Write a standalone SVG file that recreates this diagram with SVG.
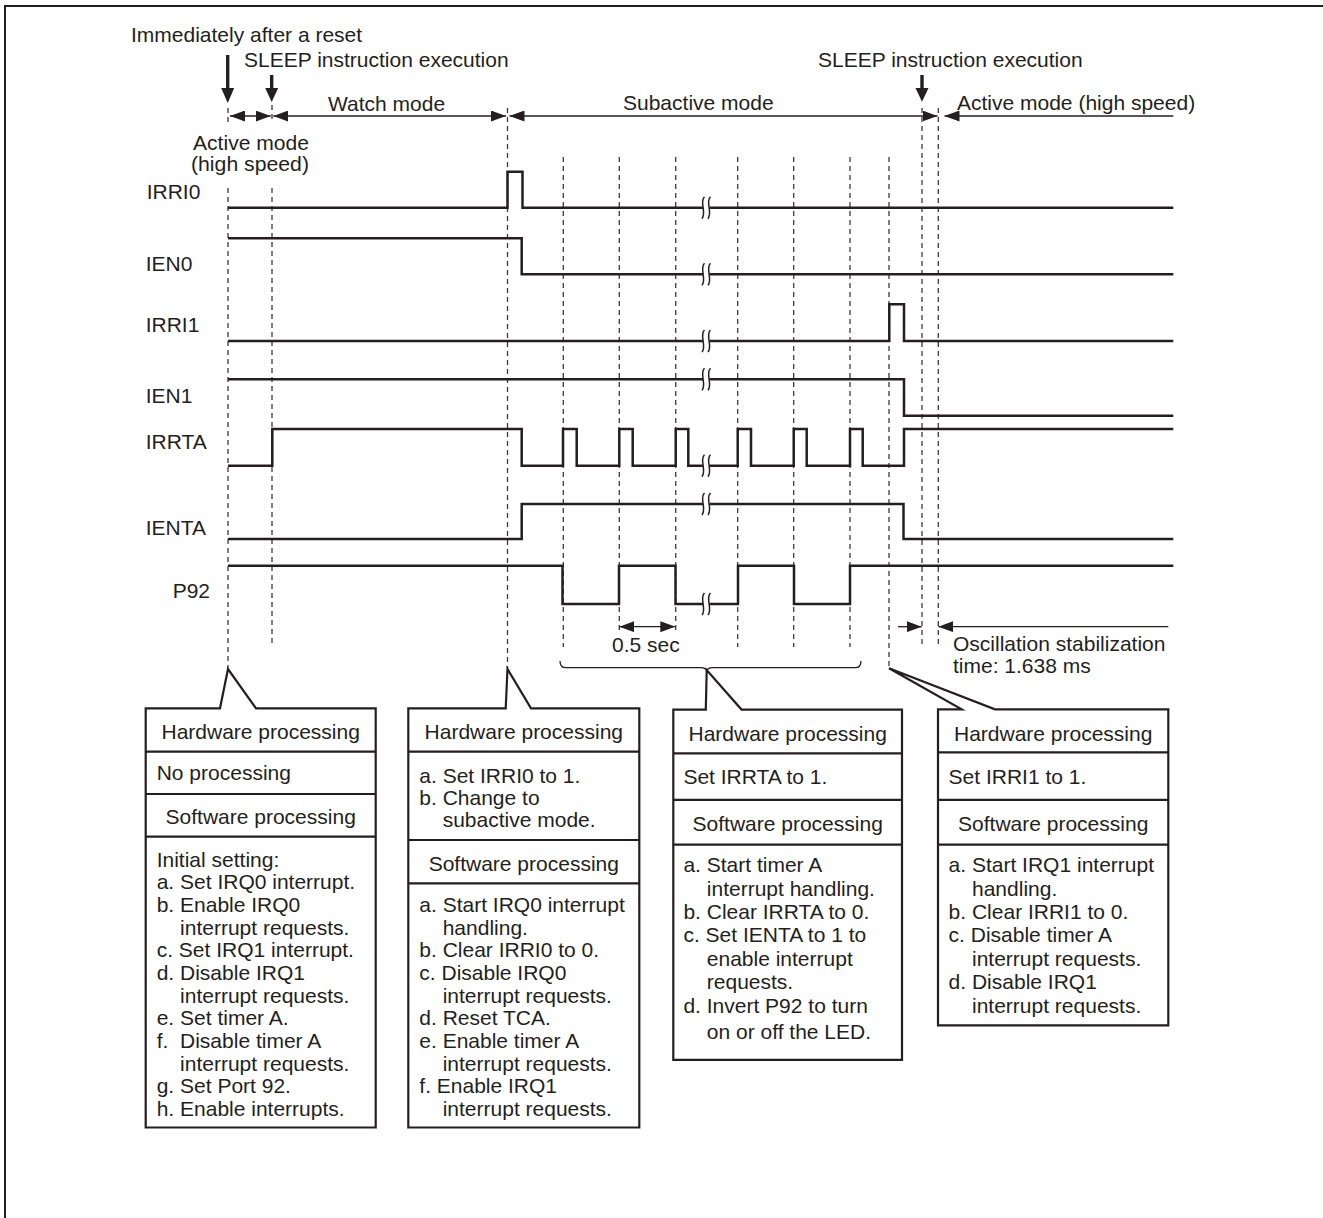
<svg xmlns="http://www.w3.org/2000/svg" width="1323" height="1218" viewBox="0 0 1323 1218">
<style>
.t{font-family:"Liberation Sans",Arial,sans-serif;font-size:21px;fill:#231f20}
.s{font-size:19.5px}
.c{text-anchor:middle}
.w{fill:none;stroke:#231f20;stroke-width:2.5}
.d{fill:none;stroke:#3a3a3a;stroke-width:1.3;stroke-dasharray:5 4}
.box{fill:#fff;stroke:#231f20;stroke-width:2.2}
.dv{stroke:#231f20;stroke-width:2.2}
.dim{fill:none;stroke:#231f20;stroke-width:1.3}
.brk{fill:none;stroke:#231f20;stroke-width:1.5}
.ar{fill:#231f20}
</style>
<defs>
<marker id="ah" viewBox="0 0 15 11" refX="15" refY="5.5" markerWidth="15" markerHeight="11" markerUnits="userSpaceOnUse" orient="auto-start-reverse"><path d="M0,0 L15,5.5 L0,11 Z" fill="#231f20"/></marker>
</defs>
<rect width="1323" height="1218" fill="#fff"/>
<g id="frame"><path d="M5,1218 V6 H1323" fill="none" stroke="#231f20" stroke-width="2"/></g>

<g id="top-labels">
<text class="t" x="131" y="42">Immediately after a reset</text>
<text class="t" x="244" y="67">SLEEP instruction execution</text>
<text class="t" x="818" y="67">SLEEP instruction execution</text>
<text class="t" x="328" y="111">Watch mode</text>
<text class="t" x="623" y="110">Subactive mode</text>
<text class="t" x="957" y="110">Active mode (high speed)</text>
<text class="t" x="193" y="150" textLength="116" lengthAdjust="spacingAndGlyphs">Active mode</text>
<text class="t s" x="191" y="171" textLength="118" lengthAdjust="spacingAndGlyphs">(high speed)</text>
<rect class="ar" x="226" y="55" width="3.4" height="34"/><polygon class="ar" points="221.2,88 234.2,88 227.7,103"/>
<rect class="ar" x="270" y="75" width="3.4" height="14"/><polygon class="ar" points="265.2,88 278.2,88 271.7,102"/>
<rect class="ar" x="920.3" y="75" width="3.4" height="14"/><polygon class="ar" points="915.5,88 928.5,88 922,101.7"/>
</g>

<g id="connectors">
<path class="d" d="M228,108V123 M228,188V668 M272,105V123 M272,188V647 M507.5,108V668 M563.3,157V647 M619.3,157V631 M675.7,157V631 M737.7,157V647 M793.7,157V647 M850,157V647 M889,157V668 M922,108V647 M938.3,108V647"/>
<path class="dim" d="M230,116H270.7" marker-start="url(#ah)" marker-end="url(#ah)"/>
<path class="dim" d="M273.3,116H506" marker-start="url(#ah)" marker-end="url(#ah)"/>
<path class="dim" d="M509.5,116H937.5" marker-start="url(#ah)" marker-end="url(#ah)"/>
<path class="dim" d="M944.5,116H1173.3" marker-start="url(#ah)"/>
<path class="dim" d="M619.3,626.7H675.3" marker-start="url(#ah)" marker-end="url(#ah)"/>
<path class="dim" d="M898,626.7H921.7" marker-end="url(#ah)"/>
<path class="dim" d="M938.3,626.7H1168.3" marker-start="url(#ah)"/>
<path class="dim" d="M560,661 Q560,667.7 566,667.7 H700.7 Q706.7,667.7 706.7,672 Q706.7,667.7 712.7,667.7 H855 Q861,667.7 861,661"/>
<text class="t" x="612" y="652">0.5 sec</text>
<text class="t" x="953" y="651">Oscillation stabilization</text>
<text class="t" x="953" y="673">time: 1.638 ms</text>
</g>

<g id="signals">
<g id="sig-IRRI0"><text class="t" x="146.7" y="199">IRRI0</text><path class="w" d="M228,207.7 H507.5 V171.7 H522.5 V207.7 H1173.3"/></g>
<g id="sig-IEN0"><text class="t" x="145.7" y="271">IEN0</text><path class="w" d="M228,238.3 H521.7 V274.3 H1173.3"/></g>
<g id="sig-IRRI1"><text class="t" x="145.7" y="332">IRRI1</text><path class="w" d="M228,341 H889.3 V304.3 H904 V341 H1173.3"/></g>
<g id="sig-IEN1"><text class="t" x="145.7" y="403">IEN1</text><path class="w" d="M228,379.3 H904 V415.7 H1173.3"/></g>
<g id="sig-IRRTA"><text class="t" x="145.7" y="449">IRRTA</text><path class="w" d="M228,465.7 H272.3 V429 H521.7 V465.7 H563 V429 H576.7 V465.7 H619.3 V429 H632.7 V465.7 H675.7 V429 H688.3 V465.7 H737.7 V429 H751 V465.7 H793.7 V429 H806.7 V465.7 H850 V429 H862.7 V465.7 H904 V429 H1173.3"/></g>
<g id="sig-IENTA"><text class="t" x="145.7" y="535">IENTA</text><path class="w" d="M228,539 H521.7 V504 H903.5 V539 H1173.3"/></g>
<g id="sig-P92"><text class="t" x="172.7" y="598">P92</text><path class="w" d="M228,565.7 H562.5 V604 H619 V565.7 H675.5 V604 H738 V565.7 H794 V604 H850 V565.7 H1173.3"/></g>
<g id="breaks">
<g transform="translate(0,207.7)"><rect x="703" y="-2.5" width="6.5" height="5" fill="#fff"/><path class="brk" d="M704.5,-11 C699,-6 707,5 702,11 M710.5,-11 C705,-6 713,5 708,11"/></g>
<g transform="translate(0,274.3)"><rect x="703" y="-2.5" width="6.5" height="5" fill="#fff"/><path class="brk" d="M704.5,-11 C699,-6 707,5 702,11 M710.5,-11 C705,-6 713,5 708,11"/></g>
<g transform="translate(0,341)"><rect x="703" y="-2.5" width="6.5" height="5" fill="#fff"/><path class="brk" d="M704.5,-11 C699,-6 707,5 702,11 M710.5,-11 C705,-6 713,5 708,11"/></g>
<g transform="translate(0,379.3)"><rect x="703" y="-2.5" width="6.5" height="5" fill="#fff"/><path class="brk" d="M704.5,-11 C699,-6 707,5 702,11 M710.5,-11 C705,-6 713,5 708,11"/></g>
<g transform="translate(0,465.7)"><rect x="703" y="-2.5" width="6.5" height="5" fill="#fff"/><path class="brk" d="M704.5,-11 C699,-6 707,5 702,11 M710.5,-11 C705,-6 713,5 708,11"/></g>
<g transform="translate(0,504)"><rect x="703" y="-2.5" width="6.5" height="5" fill="#fff"/><path class="brk" d="M704.5,-11 C699,-6 707,5 702,11 M710.5,-11 C705,-6 713,5 708,11"/></g>
<g transform="translate(0,604)"><rect x="703" y="-2.5" width="6.5" height="5" fill="#fff"/><path class="brk" d="M704.5,-11 C699,-6 707,5 702,11 M710.5,-11 C705,-6 713,5 708,11"/></g>
</g>
</g>

<g id="box1">
<path class="box" d="M145.7,708.3 H220 L228,669 L256,708.3 H375.7 V1127.5 H145.7 Z"/>
<path class="dv" d="M145.7,751.7H375.7 M145.7,794H375.7 M145.7,836.7H375.7"/>
<text class="t c" x="260.7" y="739">Hardware processing</text>
<text class="t" x="156.7" y="780">No processing</text>
<text class="t c" x="260.7" y="824">Software processing</text>
<text class="t" x="156.7" y="866.7">Initial setting:</text>
<text class="t" x="156.7" y="889.3">a. Set IRQ0 interrupt.</text>
<text class="t" x="156.7" y="912">b. Enable IRQ0</text>
<text class="t" x="180.1" y="934.7">interrupt requests.</text>
<text class="t" x="156.7" y="957.3">c. Set IRQ1 interrupt.</text>
<text class="t" x="156.7" y="980">d. Disable IRQ1</text>
<text class="t" x="180.1" y="1002.7">interrupt requests.</text>
<text class="t" x="156.7" y="1025.3">e. Set timer A.</text>
<text class="t" x="156.7" y="1048">f.&#160; Disable timer A</text>
<text class="t" x="180.1" y="1070.7">interrupt requests.</text>
<text class="t" x="156.7" y="1093.3">g. Set Port 92.</text>
<text class="t" x="156.7" y="1116">h. Enable interrupts.</text>
</g>

<g id="box2">
<path class="box" d="M408.3,708.3 H505.7 L507.5,669 L531,708.3 H639.3 V1127.5 H408.3 Z"/>
<path class="dv" d="M408.3,751.7H639.3 M408.3,840H639.3 M408.3,883.3H639.3"/>
<text class="t c" x="523.8" y="739">Hardware processing</text>
<text class="t" x="419.3" y="782.5">a. Set IRRI0 to 1.</text>
<text class="t" x="419.3" y="804.8">b. Change to</text>
<text class="t" x="442.7" y="827">subactive mode.</text>
<text class="t c" x="523.8" y="870.7">Software processing</text>
<text class="t" x="419.3" y="912">a. Start IRQ0 interrupt</text>
<text class="t" x="442.7" y="934.7">handling.</text>
<text class="t" x="419.3" y="957.3">b. Clear IRRI0 to 0.</text>
<text class="t" x="419.3" y="980">c. Disable IRQ0</text>
<text class="t" x="442.7" y="1002.7">interrupt requests.</text>
<text class="t" x="419.3" y="1025.3">d. Reset TCA.</text>
<text class="t" x="419.3" y="1048">e. Enable timer A</text>
<text class="t" x="442.7" y="1070.7">interrupt requests.</text>
<text class="t" x="419.3" y="1093.3">f. Enable IRQ1</text>
<text class="t" x="442.7" y="1116">interrupt requests.</text>
</g>

<g id="box3">
<path class="box" d="M673.3,709.6 H705.8 L706.7,670 L741.5,709.6 H902 V1059.8 H673.3 Z"/>
<path class="dv" d="M673.3,753.4H902 M673.3,799.9H902 M673.3,844.6H902"/>
<text class="t c" x="787.7" y="740.6">Hardware processing</text>
<text class="t" x="683.4" y="784.4">Set IRRTA to 1.</text>
<text class="t c" x="787.7" y="830.9">Software processing</text>
<text class="t" x="683.4" y="872.2">a. Start timer A</text>
<text class="t" x="706.8" y="895.6">interrupt handling.</text>
<text class="t" x="683.4" y="919">b. Clear IRRTA to 0.</text>
<text class="t" x="683.4" y="942.4">c. Set IENTA to 1 to</text>
<text class="t" x="706.8" y="965.8">enable interrupt</text>
<text class="t" x="706.8" y="989.2">requests.</text>
<text class="t" x="683.4" y="1012.6">d. Invert P92 to turn</text>
<text class="t" x="706.8" y="1039.2">on or off the LED.</text>
</g>

<g id="box4">
<path class="box" d="M938,709.3 H961.7 L889,668.3 L995,709.3 H1168.3 V1025.4 H938 Z"/>
<path class="dv" d="M938,752.3H1168.3 M938,799.9H1168.3 M938,844.6H1168.3"/>
<text class="t c" x="1053.2" y="740.6">Hardware processing</text>
<text class="t" x="948.6" y="784.4">Set IRRI1 to 1.</text>
<text class="t c" x="1053.2" y="830.9">Software processing</text>
<text class="t" x="948.6" y="872.2">a. Start IRQ1 interrupt</text>
<text class="t" x="972" y="895.6">handling.</text>
<text class="t" x="948.6" y="919">b. Clear IRRI1 to 0.</text>
<text class="t" x="948.6" y="942.4">c. Disable timer A</text>
<text class="t" x="972" y="965.8">interrupt requests.</text>
<text class="t" x="948.6" y="989.2">d. Disable IRQ1</text>
<text class="t" x="972" y="1012.6">interrupt requests.</text>
</g>
</svg>
